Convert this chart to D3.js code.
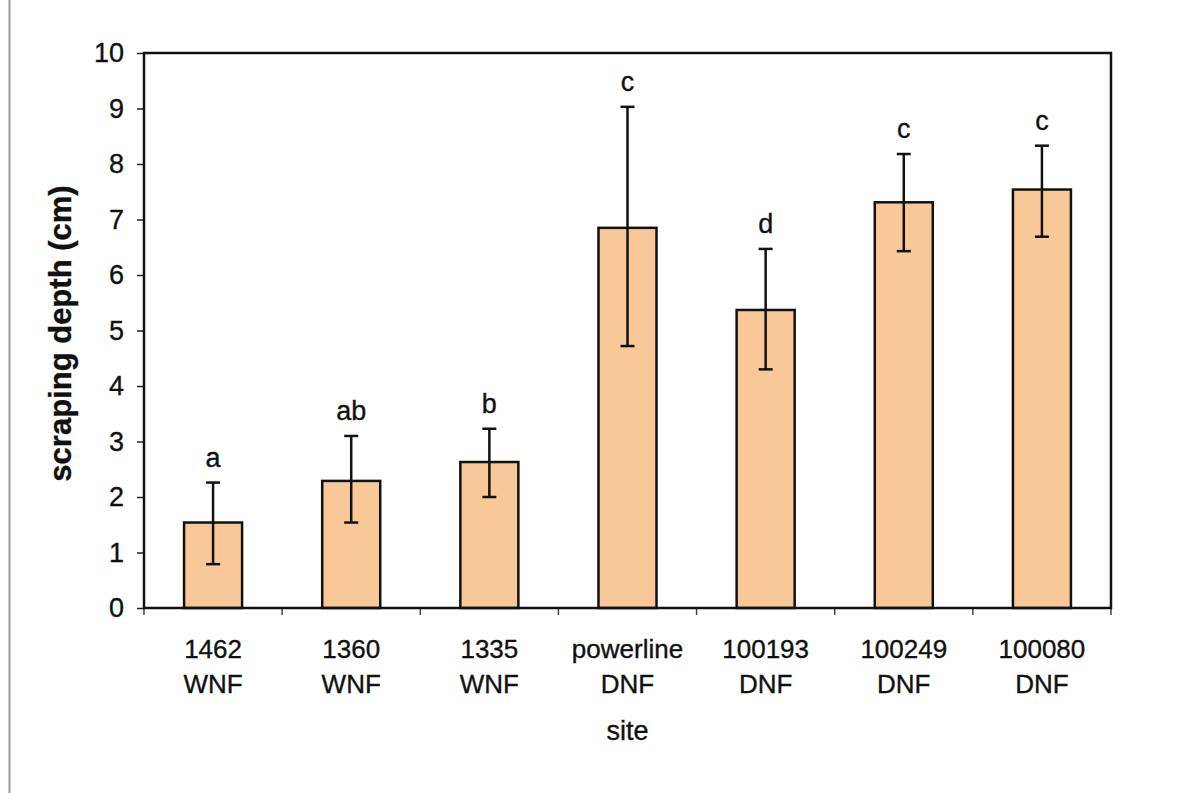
<!DOCTYPE html>
<html>
<head>
<meta charset="utf-8">
<script src="https://cdn.jsdelivr.net/npm/d3@7"></script>
<style>
  body { margin: 0; background: #fff; }
  svg { display: block; font-family: "Liberation Sans", Arial, sans-serif; }
  text { stroke: #111; stroke-width: 0.35px; }
</style>
</head>
<body>
<svg id="chart" width="1178" height="793"></svg>
<script>
// site names (two lines each)
const sites = ["1462", "1360", "1335", "powerline", "100193", "100249", "100080"];
const forests = ["WNF", "WNF", "WNF", "DNF", "DNF", "DNF", "DNF"];
// mean scraping depth and error bar ends (cm)
const means = [1.54, 2.29, 2.63, 6.85, 5.37, 7.31, 7.54];
const errHigh = [2.26, 3.10, 3.23, 9.03, 6.47, 8.18, 8.33];
const errLow = [0.79, 1.54, 2.00, 4.72, 4.30, 6.43, 6.69];
const letters = ["a", "ab", "b", "c", "d", "c", "c"];
const yTicks = [0, 1, 2, 3, 4, 5, 6, 7, 8, 9, 10];

const width = 1178, height = 793;
const margin = { top: 53, right: 67, bottom: 185, left: 144 };
const innerW = width - margin.left - margin.right;
const innerH = height - margin.top - margin.bottom;

const svg = d3.select("#chart");

// grey border line at left of figure
svg.append("line")
    .attr("x1", 9.5).attr("x2", 9.5)
    .attr("y1", 0).attr("y2", height)
    .style("stroke", "#9a9a9a")
    .style("stroke-width", 2);

const g = svg.append("g")
    .attr("transform", `translate(${margin.left},${margin.top})`);

const x = d3.scaleBand()
    .domain(sites)
    .range([0, innerW])
    .paddingInner(0.58)
    .paddingOuter(0.29);

const y = d3.scaleLinear()
    .domain([0, 10])
    .range([innerH, 0]);

// y axis ticks + labels
const yAxis = g.append("g")
    .call(d3.axisLeft(y).tickValues(yTicks).tickSize(7).tickPadding(13));
yAxis.select(".domain").remove();
yAxis.selectAll(".tick line").style("stroke", "#222").style("stroke-width", 1.5);
yAxis.selectAll(".tick text")
    .style("font-size", "27px")
    .style("fill", "#111")
    .style("font-family", "'Liberation Sans', Arial, sans-serif");

// x ticks at category boundaries
const step = innerW / sites.length;
g.selectAll(".xtick")
    .data(d3.range(sites.length + 1))
    .enter()
    .append("line")
    .attr("x1", d => d * step)
    .attr("x2", d => d * step)
    .attr("y1", innerH)
    .attr("y2", innerH + 7)
    .style("stroke", "#444")
    .style("stroke-width", 1.5);

// bars
g.selectAll(".bar")
    .data(means)
    .enter()
    .append("rect")
    .attr("x", (d, i) => x(sites[i]))
    .attr("y", d => y(d))
    .attr("width", x.bandwidth())
    .attr("height", d => innerH - y(d))
    .style("fill", "#f9c899")
    .style("stroke", "#111")
    .style("stroke-width", 2.5);

// error bars
const cx = i => x(sites[i]) + x.bandwidth() / 2;
const capW = 7;
const err = g.selectAll(".err")
    .data(means)
    .enter()
    .append("g")
    .style("stroke", "#111")
    .style("stroke-width", 2.5);
err.append("line")
    .attr("x1", (d, i) => cx(i)).attr("x2", (d, i) => cx(i))
    .attr("y1", (d, i) => y(errLow[i])).attr("y2", (d, i) => y(errHigh[i]));
err.append("line")
    .attr("x1", (d, i) => cx(i) - capW).attr("x2", (d, i) => cx(i) + capW)
    .attr("y1", (d, i) => y(errHigh[i])).attr("y2", (d, i) => y(errHigh[i]));
err.append("line")
    .attr("x1", (d, i) => cx(i) - capW).attr("x2", (d, i) => cx(i) + capW)
    .attr("y1", (d, i) => y(errLow[i])).attr("y2", (d, i) => y(errLow[i]));

// significance letters
g.selectAll(".letter")
    .data(letters)
    .enter()
    .append("text")
    .attr("x", (d, i) => cx(i))
    .attr("y", (d, i) => y(errHigh[i]) - 16)
    .attr("text-anchor", "middle")
    .style("font-size", "27px")
    .style("fill", "#111")
    .text(d => d);

// plot frame
g.append("rect")
    .attr("x", 0).attr("y", 0)
    .attr("width", innerW).attr("height", innerH)
    .style("fill", "none")
    .style("stroke", "#111")
    .style("stroke-width", 2.5);

// x labels, two lines
const xl = g.selectAll(".xlabel")
    .data(sites)
    .enter()
    .append("text")
    .attr("text-anchor", "middle")
    .style("font-size", "26px")
    .style("fill", "#111");
xl.append("tspan")
    .attr("x", (d, i) => cx(i))
    .attr("y", innerH + 50)
    .text(d => d);
xl.append("tspan")
    .attr("x", (d, i) => cx(i))
    .attr("y", innerH + 85)
    .text((d, i) => forests[i]);

// axis titles
g.append("text")
    .attr("x", innerW / 2)
    .attr("y", innerH + 132)
    .attr("text-anchor", "middle")
    .style("font-size", "27px")
    .style("fill", "#111")
    .text("site");

svg.append("text")
    .attr("transform", `translate(71,${margin.top + innerH / 2 + 3}) rotate(-90)`)
    .attr("text-anchor", "middle")
    .style("font-size", "31px")
    .style("font-weight", "bold")
    .style("fill", "#111")
    .text("scraping depth (cm)");
</script>
</body>
</html>
